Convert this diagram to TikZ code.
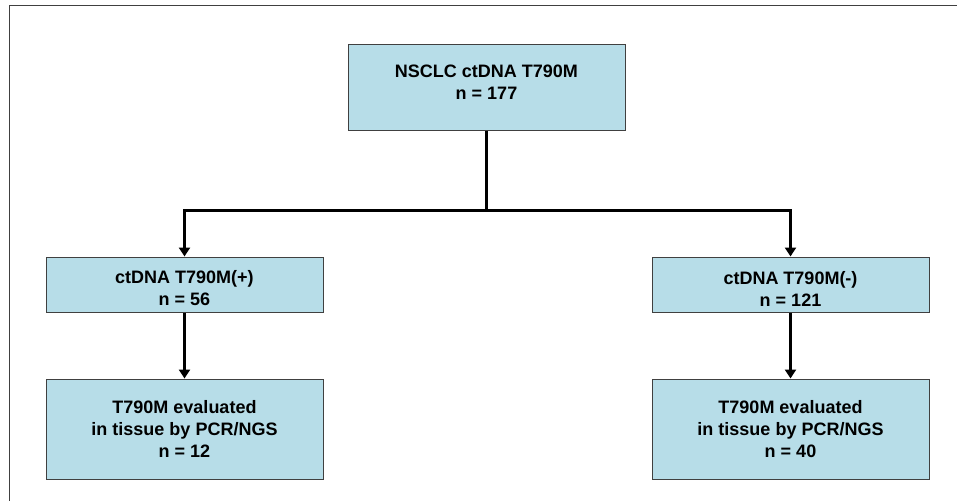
\documentclass[tikz,border=0pt]{standalone}
\usepackage{fontspec}
\setmainfont{Liberation Sans}
\usepackage{xcolor}
\usepackage{tikz}
\usetikzlibrary{arrows.meta,positioning}
\definecolor{boxblue}{RGB}{183,221,232}

\begin{document}
\begin{tikzpicture}[
  x=1pt,y=-1pt,
  node distance=66pt,
  box/.style={rectangle,draw=black!75,line width=1pt,fill=boxblue,align=center,minimum width=277pt,inner sep=0pt,font=\fontsize{18}{22}\selectfont\bfseries},
  line/.style={line width=3pt},
  arr/.style={-{Triangle[length=9pt,width=11pt]},line width=3pt}
]
\useasboundingbox (0,0) rectangle (957,500);
\draw[black!75,line width=1pt] (9,6) rectangle (975,520);
\node[box,minimum height=85pt] (total) at (486.5,87.5) {NSCLC ctDNA T790M\\n = 177\\[-12pt]\mbox{}};
\node[box,minimum height=55pt] (pos) at (184.5,284.5) {\mbox{}\\[-1pt]ctDNA T790M(+)\\n = 56};
\node[box,minimum height=55pt] (neg) at (790.5,284.5) {\mbox{}\\[-1pt]ctDNA T790M(-)\\n = 121};
\node[box,minimum height=100pt,below=66pt of pos] (postis) {T790M evaluated\\in tissue by PCR/NGS\\n = 12};
\node[box,minimum height=100pt,below=66pt of neg] (negtis) {T790M evaluated\\in tissue by PCR/NGS\\n = 40};
\coordinate (split) at (486.5,210);
\draw[line] (total.south) -- (split);
\draw[arr] (split) -| (pos.north);
\draw[arr] (split) -| (neg.north);
\draw[arr] (pos) -- (postis);
\draw[arr] (neg) -- (negtis);
\end{tikzpicture}
\end{document}
